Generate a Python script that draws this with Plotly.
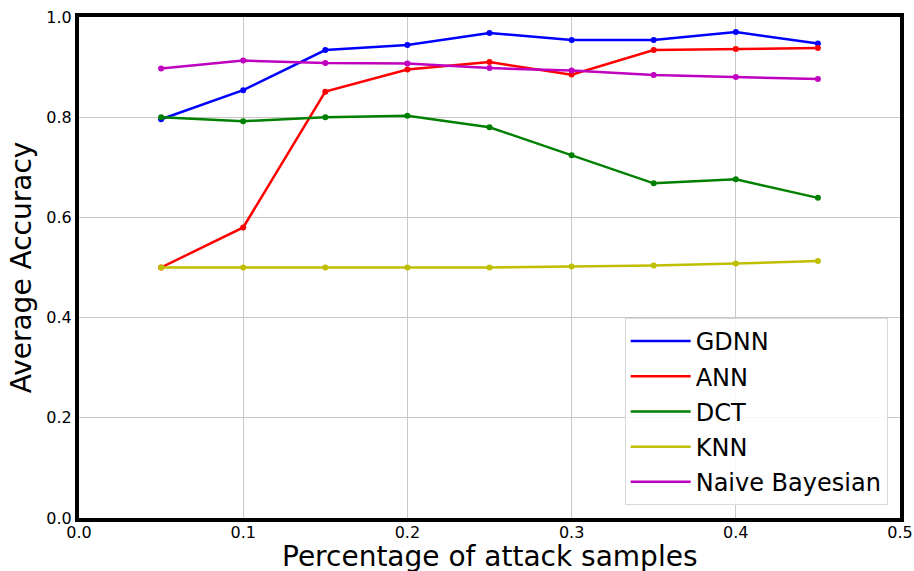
import plotly.graph_objects as go

# attack-sample fraction on the x axis
attack_frac = [0.05, 0.10, 0.15, 0.20, 0.25, 0.30, 0.35, 0.40, 0.45]

# average accuracy per classifier
gdnn = [0.796, 0.854, 0.934, 0.944, 0.968, 0.954, 0.954, 0.970, 0.947]
ann = [0.500, 0.580, 0.851, 0.895, 0.910, 0.885, 0.934, 0.936, 0.938]
dct = [0.800, 0.792, 0.800, 0.803, 0.780, 0.724, 0.668, 0.676, 0.639]
knn = [0.500, 0.500, 0.500, 0.500, 0.500, 0.502, 0.504, 0.508, 0.513]
naive_bayes = [0.897, 0.913, 0.908, 0.907, 0.898, 0.893, 0.884, 0.880, 0.876]

series = [
    ("GDNN", gdnn, "#0000ff"),
    ("ANN", ann, "#ff0000"),
    ("DCT", dct, "#008000"),
    ("KNN", knn, "#bfbf00"),
    ("Naive Bayesian", naive_bayes, "#bf00bf"),
]

x_ticks = [0.0, 0.1, 0.2, 0.3, 0.4, 0.5]
y_ticks = [0.0, 0.2, 0.4, 0.6, 0.8, 1.0]

fig = go.Figure()
for name, vals, color in series:
    fig.add_trace(go.Scatter(
        x=attack_frac, y=vals, name=name, legendgroup=name,
        mode="lines+markers", showlegend=False,
        line=dict(color=color, width=2.5),
        marker=dict(color=color, size=6),
    ))
# legend entries drawn as plain line samples
for name, vals, color in series:
    fig.add_trace(go.Scatter(
        x=[None], y=[None], name=name, legendgroup=name,
        mode="lines", line=dict(color=color, width=2.5),
    ))

font_family = "DejaVu Sans, Verdana, sans-serif"

fig.update_layout(
    width=914, height=571,
    margin=dict(l=79, r=14, t=17, b=53),
    paper_bgcolor="white", plot_bgcolor="white",
    font=dict(family=font_family, color="black"),
    showlegend=True,
    legend=dict(
        x=0.985, y=0.026, xanchor="right", yanchor="bottom",
        font=dict(size=24, family=font_family, color="black"),
        bgcolor="rgba(255,255,255,0.85)",
        bordercolor="#d9d9d9", borderwidth=1,
        tracegroupgap=1,
        itemwidth=60,
    ),
    xaxis=dict(
        range=[0, 0.5], tickvals=x_ticks, ticktext=[f"{v:.1f}" for v in x_ticks],
        showgrid=True, gridcolor="#c8c8c8", gridwidth=1,
        showline=True, linecolor="black", linewidth=4, mirror=True,
        ticks="", tickfont=dict(size=16), zeroline=False, automargin=False,
        ticklabelstandoff=-3,
    ),
    yaxis=dict(
        range=[0, 1.0], tickvals=y_ticks, ticktext=[f"{v:.1f}" for v in y_ticks],
        showgrid=True, gridcolor="#c8c8c8", gridwidth=1,
        showline=True, linecolor="black", linewidth=4, mirror=True,
        ticks="", tickfont=dict(size=16), zeroline=False, automargin=False,
        title=dict(text="Average Accuracy", font=dict(size=28), standoff=8),
    ),
)

# x-axis title, set just below the tick labels
fig.add_annotation(
    text="Percentage of attack samples",
    xref="paper", yref="paper", x=0.5, y=-0.040,
    xanchor="center", yanchor="top", showarrow=False,
    font=dict(size=28, family=font_family, color="black"),
)

fig.write_html("out.html")
